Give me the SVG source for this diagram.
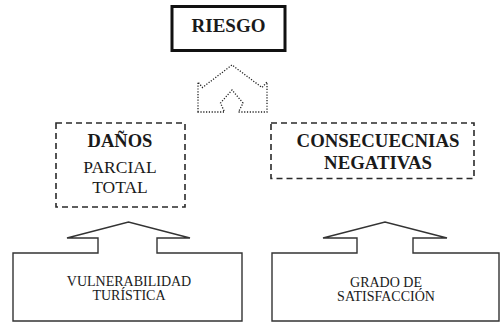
<svg xmlns="http://www.w3.org/2000/svg" width="500" height="322" viewBox="0 0 500 322">
<style>
text{font-family:"Liberation Serif","Times New Roman",serif;fill:#1a1a1a;text-anchor:middle}
.b{font-weight:bold}
.dash{fill:none;stroke:#2a2a2a;stroke-width:1.6;stroke-dasharray:6 4}
.shape{fill:#fff;stroke:#333;stroke-width:1.4;stroke-linejoin:miter}
</style>
<rect width="500" height="322" fill="#fff"/>
<g id="riesgo">
<rect x="172" y="6.5" width="113" height="44" fill="#fff" stroke="#111" stroke-width="3"/>
<text class="b" x="228.5" y="32" font-size="19">RIESGO</text>
</g>
<g id="connectors">
<path d="M198,112 L198,82 L202.5,87.5 L232,65 L262,87.5 L267,82 L267,112 L238.5,112 L243,103 L232,90 L220.5,103 L224.5,112 Z" fill="none" stroke="#222" stroke-width="1.3" stroke-dasharray="1.2 1.6"/>
</g>
<g id="danos">
<rect class="dash" x="56" y="123" width="129" height="84"/>
<text class="b" x="120" y="147" font-size="18.5">DAÑOS</text>
<text x="120" y="173" font-size="17.5">PARCIAL</text>
<text x="120" y="193" font-size="17.5">TOTAL</text>
</g>
<g id="consecuencias">
<rect class="dash" x="271" y="123" width="203" height="55.5"/>
<text class="b" x="378" y="147" font-size="18.8">CONSECUECNIAS</text>
<text class="b" x="378" y="168.5" font-size="18.8">NEGATIVAS</text>
</g>
<g id="vulnerabilidad">
<path class="shape" d="M13,321 L13,253 L98,253 L98,238 L67,238 L128.5,222 L190,238 L157,238 L157,253 L242,253 L242,321 Z"/>
<text x="129" y="286" font-size="14">VULNERABILIDAD</text>
<text x="129" y="300" font-size="14">TURÍSTICA</text>
</g>
<g id="satisfaccion">
<path class="shape" d="M272,321 L272,253 L357,253 L357,238 L323,238 L385,222 L447,238 L413,238 L413,253 L499,253 L499,321 Z"/>
<text x="386" y="286.5" font-size="14">GRADO DE</text>
<text x="386" y="301" font-size="14">SATISFACCIÓN</text>
</g>
</svg>
